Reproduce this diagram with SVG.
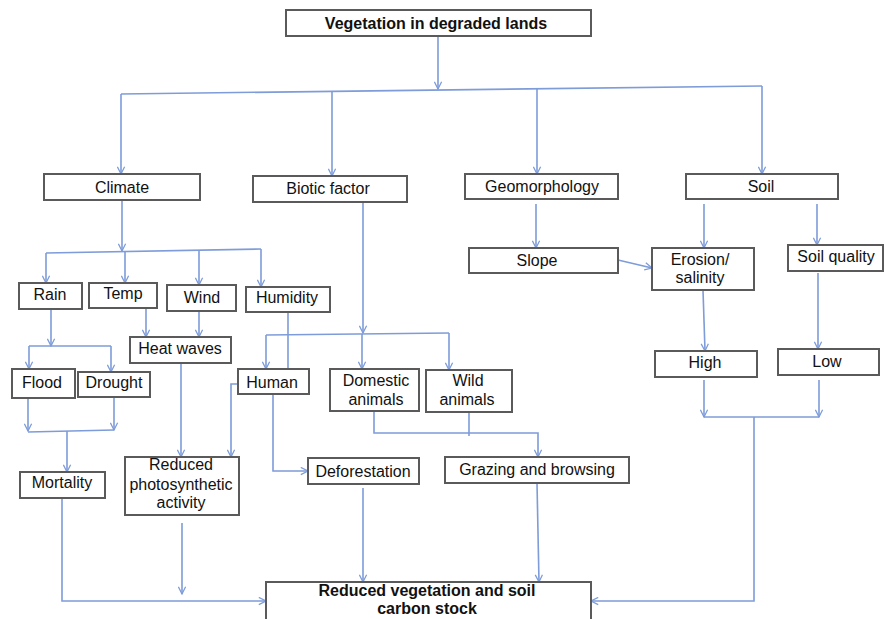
<svg xmlns="http://www.w3.org/2000/svg" width="885" height="619" viewBox="0 0 885 619">
<style>
.box{fill:#fff;stroke:#5a5a5a;stroke-width:2}
.t{font-family:"Liberation Sans",Arial,sans-serif;font-size:16px;fill:#111;text-anchor:middle}
.b{font-weight:bold}
.c{fill:none;stroke:#7e9cd9;stroke-width:1.6}
.a{marker-end:url(#arr)}
</style>
<defs>
<marker id="arr" viewBox="0 0 10 10" refX="9" refY="5" markerWidth="9" markerHeight="9" markerUnits="userSpaceOnUse" orient="auto">
<path d="M1,1 L9,5 L1,9" fill="none" stroke="#7e9cd9" stroke-width="1.4"/>
</marker>
</defs>
<rect width="885" height="619" fill="#fff"/>
<g id="connectors">
<path class="c a" d="M438,36 V89"/>
<path class="c" d="M121,94 L762,86"/>
<path class="c a" d="M121,94 V174"/>
<path class="c a" d="M332,91 V176"/>
<path class="c a" d="M537,89 V174"/>
<path class="c a" d="M762,86 V174"/>
<path class="c a" d="M122,200 V251"/>
<path class="c" d="M46,253 L261,249"/>
<path class="c a" d="M46,253 V283"/>
<path class="c a" d="M125,252 V283"/>
<path class="c a" d="M199,250 V285"/>
<path class="c a" d="M261,249 V287"/>
<path class="c a" d="M51,309 V346"/>
<path class="c" d="M29,346 H111"/>
<path class="c a" d="M29,346 V369"/>
<path class="c a" d="M111,346 V372"/>
<path class="c a" d="M146,308 V337"/>
<path class="c a" d="M199,311 V337"/>
<path class="c a" d="M181,363 V457"/>
<path class="c" d="M288,312 V369"/>
<path class="c a" d="M363,202 V333"/>
<path class="c" d="M266,335 L449,333"/>
<path class="c a" d="M266,335 V369"/>
<path class="c a" d="M362,334 V369"/>
<path class="c a" d="M449,333 V370"/>
<path class="c a" d="M238,384 H231 V457"/>
<path class="c a" d="M273,394 V471 H308"/>
<path class="c a" d="M374,411 V433 H538 V457"/>
<path class="c" d="M469,412 V436"/>
<path class="c a" d="M28,398 V431"/>
<path class="c a" d="M114,397 V430"/>
<path class="c" d="M28,432 L114,430"/>
<path class="c a" d="M67,431 V472"/>
<path class="c a" d="M62,498 V601 H266"/>
<path class="c a" d="M182,523 V594"/>
<path class="c a" d="M363,488 V582"/>
<path class="c a" d="M537,483 L539,582"/>
<path class="c a" d="M536,204 V248"/>
<path class="c a" d="M618,260 L652,268"/>
<path class="c a" d="M704,204 V248"/>
<path class="c a" d="M817,204 V245"/>
<path class="c a" d="M703,290 L705,351"/>
<path class="c a" d="M818,273 V349"/>
<path class="c a" d="M704,380 V417"/>
<path class="c a" d="M819,380 V417"/>
<path class="c" d="M704,417 H819"/>
<path class="c a" d="M754,417 V601 H591"/>
</g>
<g id="n-top"><rect class="box" x="286" y="10" width="305" height="26"/><text class="t b" x="436" y="29">Vegetation in degraded lands</text></g>
<g id="n-climate"><rect class="box" x="44" y="174" width="156" height="26"/><text class="t" x="122" y="193">Climate</text></g>
<g id="n-biotic"><rect class="box" x="253" y="176" width="154" height="26"/><text class="t" x="328" y="194">Biotic factor</text></g>
<g id="n-geomorphology"><rect class="box" x="465" y="174" width="153" height="25"/><text class="t" x="542" y="192">Geomorphology</text></g>
<g id="n-soil"><rect class="box" x="686" y="174" width="152" height="25"/><text class="t" x="761" y="192">Soil</text></g>
<g id="n-rain"><rect class="box" x="19" y="283" width="63" height="26"/><text class="t" x="50" y="300">Rain</text></g>
<g id="n-temp"><rect class="box" x="89" y="283" width="68" height="25"/><text class="t" x="123" y="299">Temp</text></g>
<g id="n-wind"><rect class="box" x="167" y="285" width="69" height="26"/><text class="t" x="202" y="303">Wind</text></g>
<g id="n-humidity"><rect class="box" x="246" y="287" width="84" height="25"/><text class="t" x="287" y="303">Humidity</text></g>
<g id="n-flood"><rect class="box" x="12" y="369" width="63" height="29"/><text class="t" x="42" y="388">Flood</text></g>
<g id="n-drought"><rect class="box" x="78" y="372" width="72" height="25"/><text class="t" x="114" y="388">Drought</text></g>
<g id="n-heatwaves"><rect class="box" x="130" y="337" width="101" height="26"/><text class="t" x="180" y="354">Heat waves</text></g>
<g id="n-human"><rect class="box" x="238" y="369" width="71" height="25"/><text class="t" x="272" y="388">Human</text></g>
<g id="n-domestic"><rect class="box" x="330" y="369" width="89" height="42"/><text class="t" x="376" y="386">Domestic</text><text class="t" x="376" y="405">animals</text></g>
<g id="n-wild"><rect class="box" x="426" y="370" width="86" height="42"/><text class="t" x="468" y="386">Wild</text><text class="t" x="467" y="405">animals</text></g>
<g id="n-deforestation"><rect class="box" x="308" y="458" width="111" height="26"/><text class="t" x="363" y="477">Deforestation</text></g>
<g id="n-grazing"><rect class="box" x="445" y="457" width="184" height="26"/><text class="t" x="537" y="475">Grazing and browsing</text></g>
<g id="n-mortality"><rect class="box" x="20" y="472" width="85" height="26"/><text class="t" x="62" y="488">Mortality</text></g>
<g id="n-photo"><rect class="box" x="125" y="457" width="114" height="58"/><text class="t" x="181" y="470">Reduced</text><text class="t" x="181" y="490">photosynthetic</text><text class="t" x="181" y="508">activity</text></g>
<g id="n-slope"><rect class="box" x="469" y="248" width="149" height="25"/><text class="t" x="537" y="266">Slope</text></g>
<g id="n-erosion"><rect class="box" x="652" y="248" width="102" height="42"/><text class="t" x="700" y="265">Erosion/</text><text class="t" x="700" y="283">salinity</text></g>
<g id="n-soilquality"><rect class="box" x="788" y="245" width="95" height="26"/><text class="t" x="836" y="262">Soil quality</text></g>
<g id="n-high"><rect class="box" x="655" y="351" width="102" height="26"/><text class="t" x="705" y="368">High</text></g>
<g id="n-low"><rect class="box" x="778" y="349" width="101" height="26"/><text class="t" x="827" y="367">Low</text></g>
<g id="n-result"><rect class="box" x="266" y="582" width="325" height="60"/><text class="t b" x="427" y="596">Reduced vegetation and soil</text><text class="t b" x="427" y="614">carbon stock</text></g>
</svg>
